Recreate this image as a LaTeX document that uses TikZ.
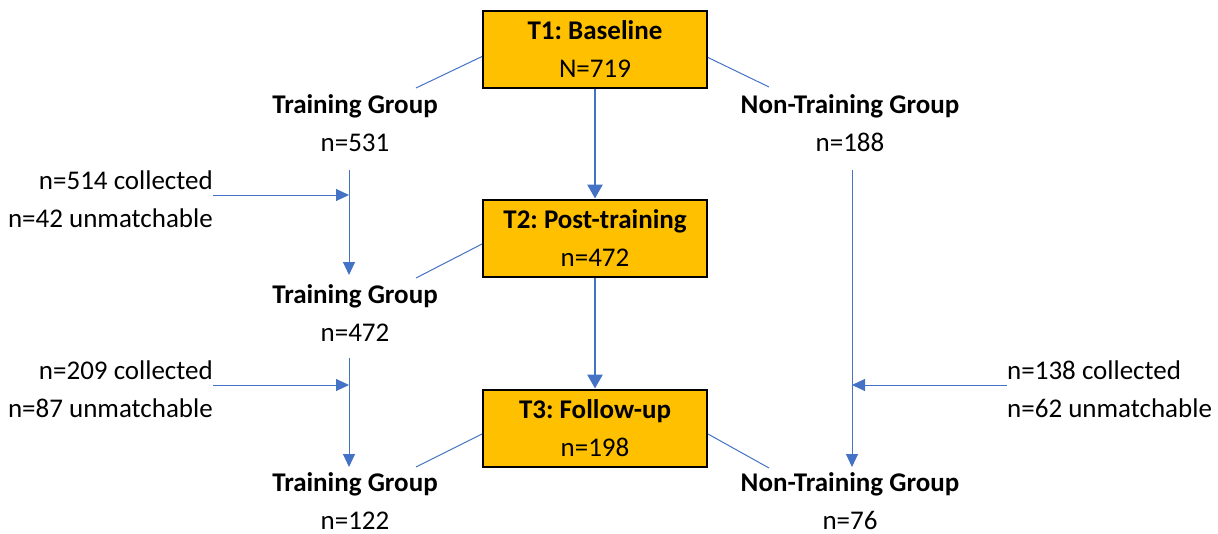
\documentclass[tikz,border=0pt]{standalone}
\usepackage{fontspec}
\setmainfont{Carlito}
\usetikzlibrary{arrows.meta}
\definecolor{phasefill}{HTML}{FFC000}
\definecolor{linkblue}{HTML}{4472C4}
\frenchspacing
\tikzset{
  txt/.style={font=\fontsize{27}{38}\selectfont, inner sep=0pt},
  phase/.style={txt, draw=black, line width=2pt, fill=phasefill,
    minimum width=224pt, minimum height=77pt, align=center},
  grp/.style={txt, align=center},
  note/.style={txt},
  link/.style={draw=linkblue, line width=1pt},
  flow/.style={link, -{Triangle[length=13pt,width=12pt]}},
  mainflow/.style={link, line width=2.8pt, -{Triangle[length=14pt,width=15pt]}}
}
\begin{document}
\begin{tikzpicture}[x=1pt, y=-1pt]
\useasboundingbox (0,0) rectangle (1218,533);
% time points
\node[phase] (t1) at (595,49.5) {\textbf{T1: Baseline}\\N=719};
\node[phase] (t2) at (595,238) {\textbf{T2: Post-training}\\n=472};
\node[phase] (t3) at (595,428) {\textbf{T3: Follow-up}\\n=198};
% groups
\node[grp] (tg1) at (355,123) {\textbf{Training Group}\\n=531};
\node[grp] (tg2) at (355,313) {\textbf{Training Group}\\n=472};
\node[grp] (tg3) at (355,501) {\textbf{Training Group}\\n=122};
\node[grp] (ng1) at (850,123) {\textbf{Non-Training Group}\\n=188};
\node[grp] (ng3) at (850,501) {\textbf{Non-Training Group}\\n=76};
% follow-up notes
\node[note, align=right, anchor=east] (c1) at (213,199) {n=514 collected\\n=42 unmatchable};
\node[note, align=right, anchor=east] (c2) at (213,389) {n=209 collected\\n=87 unmatchable};
\node[note, align=left, anchor=west] (c3) at (1007,389) {n=138 collected\\n=62 unmatchable};
% splits
\coordinate (s1l) at (416,88);
\coordinate (s1r) at (769,87);
\coordinate (s2l) at (416,278);
\coordinate (s3l) at (416,467);
\coordinate (s3r) at (769,468);
\draw[link] ([yshift=-7pt]t1.west) -- (s1l);
\draw[link] ([yshift=-8pt]t1.east) -- (s1r);
\draw[link] ([yshift=-6pt]t2.west) -- (s2l);
\draw[link] ([yshift=-6pt]t3.west) -- (s3l);
\draw[link] ([yshift=-6pt]t3.east) -- (s3r);
% main line
\draw[mainflow] (t1) -- (t2);
\draw[mainflow] (t2) -- (t3);
% group lines
\coordinate (v1a) at (349,170);
\coordinate (v2a) at (349,358);
\coordinate (v3a) at (852,170);
\draw[flow] (v1a) -- (349,275);
\draw[flow] (v2a) -- (349,467);
\draw[flow] (v3a) -- (852,467);
\draw[flow] ([yshift=4pt]c1.east) -- ([yshift=4pt]c1.east -| v1a);
\draw[flow] ([yshift=4pt]c2.east) -- ([yshift=4pt]c2.east -| v2a);
\draw[flow] ([yshift=4pt]c3.west) -- ([yshift=4pt]c3.west -| v3a);
\end{tikzpicture}
\end{document}
